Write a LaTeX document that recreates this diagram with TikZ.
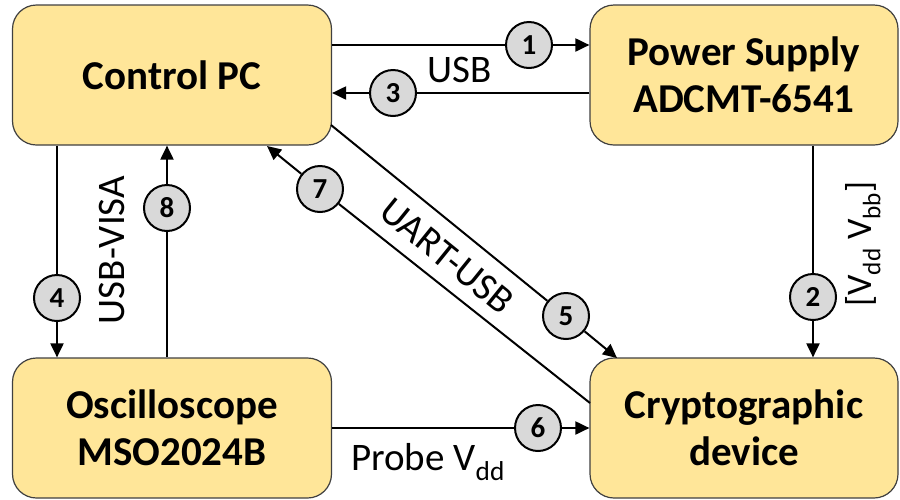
\documentclass[tikz,border=0pt]{standalone}
\usepackage{fontspec}
\setmainfont{Carlito}
\usetikzlibrary{arrows.meta}
\definecolor{boxfill}{HTML}{FFE699}
\definecolor{boxline}{HTML}{404040}
\definecolor{stepfill}{HTML}{D9D9D9}

\tikzset{
  unit/.style={draw=boxline, line width=1.2pt, fill=boxfill, rounded corners=24pt,
    minimum height=140pt, align=center, inner sep=0pt,
    font=\fontsize{41}{47}\selectfont\bfseries},
  num/.style={circle, draw=black, line width=2pt, fill=stepfill, minimum size=46pt,
    inner sep=0pt, font=\fontsize{29}{29}\selectfont\bfseries},
  link/.style={line width=2pt, -{Triangle[length=14pt,width=13pt]}},
  wire/.style={line width=2pt},
  lbl/.style={inner sep=0pt, font=\fontsize{39}{39}\selectfont},
}

\begin{document}
\begin{tikzpicture}[x=1pt, y=-1pt]
    \useasboundingbox (0,0) rectangle (900,499);

    % the four units
    \node[unit, minimum width=319pt] (pc) at (172,75) {Control PC};
    \node[unit, minimum width=308pt] (ps) at (744,75) {Power Supply\\ADCMT-6541};
    \node[unit, minimum width=319pt] (osc) at (172,428) {Oscilloscope\\MSO2024B};
    \node[unit, minimum width=308pt] (cry) at (744,428) {Cryptographic\\device};

    % step markers
    \node[num] (c1) at (529,45) {1};
    \node[num] (c2) at (813,297) {2};
    \node[num] (c3) at (393,93) {3};
    \node[num] (c4) at (57,298) {4};
    \node[num] (c5) at (566,316) {5};
    \node[num] (c6) at (538,428) {6};
    \node[num] (c7) at (320,189) {7};
    \node[num] (c8) at (167,208) {8};

    % end points of the diagonal links
    \coordinate (pcout) at (331,125);
    \coordinate (pcin) at (267,146);
    \coordinate (cryin) at (617,358);
    \coordinate (cryout) at (590,403);

    % connections
    \draw[wire] (pc.east |- c1) -- (c1);
    \draw[link] (c1) -- (ps.west |- c1);
    \draw[wire] (ps.west |- c3) -- (c3);
    \draw[link] (c3) -- (pc.east |- c3);
    \draw[wire] (c2 |- ps.south) -- (c2);
    \draw[link] (c2) -- (c2 |- cry.north);
    \draw[wire] (c4 |- pc.south) -- (c4);
    \draw[link] (c4) -- (c4 |- osc.north);
    \draw[wire] (c8 |- osc.north) -- (c8);
    \draw[link] (c8) -- (c8 |- pc.south);
    \draw[wire] (pcout) -- (c5);
    \draw[link] (c5) -- (cryin);
    \draw[wire] (cryout) -- (c7);
    \draw[link] (c7) -- (pcin);
    \draw[wire] (osc.east |- c6) -- (c6);
    \draw[link] (c6) -- (cry.west |- c6);

    % labels
    \node[lbl] (usb) at (460,70) {USB};
    \node[lbl, rotate=90] (visa) at (112,250) {USB-VISA};
    \node[lbl, rotate=-39] (uart) at (447,256) {UART-USB};
    \node[lbl] (probe) at (428,462) {Probe V\textsubscript{dd}};
    \node[lbl, rotate=90, font=\fontsize{36}{36}\selectfont] (rails) at (863,244)
      {[V\textsubscript{dd} V\textsubscript{bb}]};
\end{tikzpicture}
\end{document}
